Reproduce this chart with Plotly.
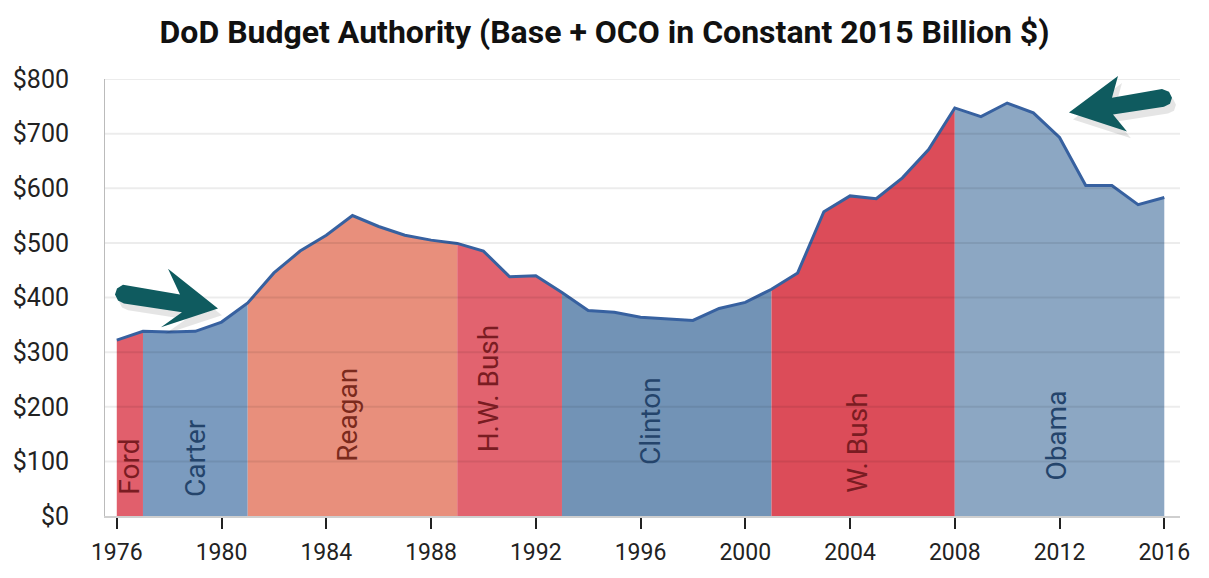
import plotly.graph_objects as go

# ---------------- data ----------------
years = list(range(1976, 2017))
budget = [322, 338, 337, 338, 355, 390, 445, 485, 514, 550, 530, 514, 505, 499,
          485, 438, 440, 409, 376, 373, 364, 361, 358, 380, 391, 415, 445, 557,
          586, 581, 619, 671, 747, 731, 756, 738, 693, 605, 605, 570, 583]

presidents = ["Ford", "Carter", "Reagan", "H.W. Bush", "Clinton", "W. Bush", "Obama"]
term_start = [1976, 1977, 1981, 1989, 1993, 2001, 2008]
term_end = [1977, 1981, 1989, 1993, 2001, 2008, 2016]
fill_colors = ["#e15f6c", "#7b9bbf", "#e88f7c", "#e2636f", "#7293b6", "#dc4c59", "#8ca7c3"]
label_colors = ["#7a1c22", "#24446b", "#7a2a1c", "#7a1c22", "#24446b", "#7a1c22", "#24446b"]
label_x = [1976.5, 1979.0, 1984.8, 1990.2, 1996.4, 2004.3, 2011.9]
label_y = [90, 107, 186, 233, 174, 134, 147]

y_ticks = [0, 100, 200, 300, 400, 500, 600, 700, 800]
y_ticktext = ["$0", "$100", "$200", "$300", "$400", "$500", "$600", "$700", "$800"]
x_ticks = list(range(1976, 2017, 4))

title = "DoD Budget Authority (Base + OCO in Constant 2015 Billion $)"

# ---------------- layout geometry ----------------
W, H = 1209, 578
ML, MR, MT, MB = 105, 29, 79, 57
PW, PH = W - ML - MR, H - MT - MB


def px(x, y):
    return (x - ML) / PW, (H - MB - y) / PH


def path_from(points, dx=0, dy=0):
    pts = [px(x + dx, y + dy) for x, y in points]
    s = "M %f %f " % pts[0]
    for p in pts[1:]:
        s += "L %f %f " % p
    return s + "Z"


fig = go.Figure()

for i, name in enumerate(presidents):
    xs = [y for y in years if term_start[i] <= y <= term_end[i]]
    vs = [budget[years.index(y)] for y in xs]
    fig.add_trace(go.Scatter(
        x=xs, y=vs, mode="lines", fill="tozeroy",
        fillcolor=fill_colors[i], line=dict(width=0, color=fill_colors[i]),
        hoverinfo="skip", showlegend=False, name=name))

fig.add_trace(go.Scatter(
    x=years, y=budget, mode="lines",
    line=dict(color="#3761a0", width=3), showlegend=False, name="Budget"))

for i, name in enumerate(presidents):
    fig.add_annotation(x=label_x[i], y=label_y[i], text=name, textangle=-90,
                       showarrow=False,
                       font=dict(family="Roboto, sans-serif", size=28, color=label_colors[i]))

shapes = []
for v in y_ticks[1:]:
    shapes.append(dict(type="line", xref="paper", yref="y", x0=0, x1=1, y0=v, y1=v,
                       line=dict(color="rgba(0,0,0,0.075)", width=2), layer="above"))

arrow1 = [(123, 287), (180, 297), (168, 271), (218, 311), (161, 330), (182, 315),
          (124, 306), (118, 303), (115, 297), (117, 291)]
arrow2 = [(1162, 89), (1112, 98), (1118, 76), (1069, 113), (1127, 132), (1113, 115),
          (1164, 107), (1170, 104), (1172, 98), (1169, 92)]
for arr in (arrow1, arrow2):
    shapes.append(dict(type="path", xref="paper", yref="paper", path=path_from(arr, 4, 7),
                       fillcolor="rgba(0,0,0,0.10)", line=dict(width=0), layer="above"))
    shapes.append(dict(type="path", xref="paper", yref="paper", path=path_from(arr),
                       fillcolor="#0f5b5f", line=dict(width=0), layer="above"))

fig.update_layout(
    width=W, height=H,
    margin=dict(l=ML, r=MR, t=MT, b=MB),
    paper_bgcolor="white", plot_bgcolor="white",
    title=dict(text="<b>" + title + "</b>", x=0.5, xanchor="center", y=0.945,
               yanchor="middle",
               font=dict(family="Roboto, sans-serif", size=32, color="#111")),
    shapes=shapes,
    xaxis=dict(range=[1975.55, 2016.6], tickvals=x_ticks, ticks="outside", ticklen=11,
               tickwidth=2, tickcolor="#222", showgrid=False, showline=True,
               linecolor="#cfcfcf", linewidth=2, zeroline=False, ticklabelstandoff=3,
               tickfont=dict(family="Roboto, sans-serif", size=23, color="#222")),
    yaxis=dict(range=[0, 800], tickvals=y_ticks, ticktext=y_ticktext, showgrid=False,
               showline=True, linecolor="#bbbbbb", linewidth=1, zeroline=False,
               ticks="", ticklabelstandoff=30,
               tickfont=dict(family="Roboto, sans-serif", size=25, color="#222")),
)

fig.write_html("out.html")
